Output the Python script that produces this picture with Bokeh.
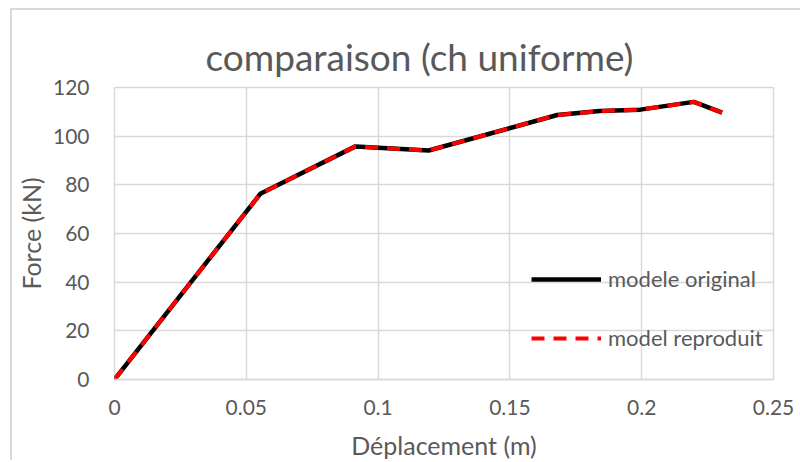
from bokeh.plotting import figure
from bokeh.models import Range1d, FixedTicker, Legend, LegendItem
from bokeh.embed import file_html
from bokeh.resources import INLINE

# ---- data ----
title_text = "comparaison (ch uniforme)"
x_label = "Déplacement (m)"
y_label = "Force (kN)"
series_names = ["modele original", "model reproduit"]

x_original = [0, 0.0553, 0.0914, 0.1192, 0.168, 0.184, 0.1995, 0.2198, 0.2305]
y_original = [0, 76.3, 95.8, 94.1, 108.7, 110.3, 110.9, 114.1, 109.7]
x_reproduit = [0, 0.0553, 0.0914, 0.1192, 0.168, 0.184, 0.1995, 0.2198, 0.2305]
y_reproduit = [0, 76.3, 95.8, 94.1, 108.7, 110.3, 110.9, 114.1, 109.7]

x_ticks = [0, 0.05, 0.1, 0.15, 0.2, 0.25]
x_tick_labels = ["0", "0.05", "0.1", "0.15", "0.2", "0.25"]
y_ticks = [0, 20, 40, 60, 80, 100, 120]

FONT = "Lato"
TXT = "#595959"
GRID = "#d9d9d9"

p = figure(width=790, height=452, output_backend="svg", toolbar_location=None,
           x_range=Range1d(0, 0.25), y_range=Range1d(0, 120),
           min_border_left=102, min_border_right=29, min_border_top=77, min_border_bottom=82)
p.styles = {"margin-left": "10px", "margin-top": "8px",
            "border-left": "2px solid #d9d9d9", "border-top": "2px solid #d9d9d9"}

p.outline_line_color = GRID
p.outline_line_width = 1.5
p.background_fill_color = "white"
p.border_fill_color = "white"

p.title.text = title_text
p.title.text_font = FONT
p.title.text_font_size = "37px"
p.title.text_font_style = "normal"
p.title.text_color = TXT
p.title.align = "left"
p.title.offset = 91
p.title.standoff = 18

p.xaxis.ticker = FixedTicker(ticks=x_ticks)
p.xaxis.major_label_overrides = {t: l for t, l in zip(x_ticks, x_tick_labels)}
p.yaxis.ticker = FixedTicker(ticks=y_ticks)

for ax in (p.xaxis[0], p.yaxis[0]):
    ax.major_tick_line_color = None
    ax.minor_tick_line_color = None
    ax.major_label_text_font = FONT
    ax.major_label_text_font_size = "21px"
    ax.major_label_text_color = TXT
    ax.axis_label_text_font = FONT
    ax.axis_label_text_font_size = "25px"
    ax.axis_label_text_font_style = "normal"
    ax.axis_label_text_color = TXT
p.xaxis.axis_line_color = GRID
p.xaxis.axis_line_width = 1.5
p.yaxis.axis_line_color = None
p.xaxis.axis_label = x_label
p.yaxis.axis_label = y_label
p.xaxis.major_label_standoff = 14
p.yaxis.major_label_standoff = 19
p.xaxis.axis_label_standoff = 12
p.yaxis.axis_label_standoff = 4

p.xgrid.grid_line_color = GRID
p.ygrid.grid_line_color = GRID
p.xgrid.grid_line_width = 1.5
p.ygrid.grid_line_width = 1.5

r1 = p.line(x_original, y_original, line_color="black", line_width=4.5)
r2 = p.line(x_reproduit, y_reproduit, line_color="#ff0000", line_width=4, line_dash="13 9")

legend = Legend(items=[LegendItem(label=series_names[0], renderers=[r1]),
                       LegendItem(label=series_names[1], renderers=[r2])],
                location=(417, 28), orientation="vertical")
legend.border_line_color = None
legend.background_fill_alpha = 0
legend.padding = 0
legend.margin = 0
legend.glyph_width = 70
legend.glyph_height = 20
legend.label_height = 20
legend.spacing = 32
legend.label_standoff = 7
legend.label_text_font = FONT
legend.label_text_font_size = "22px"
legend.label_text_color = TXT
p.add_layout(legend, "center")

open("out.html", "w").write(file_html(p, INLINE))
